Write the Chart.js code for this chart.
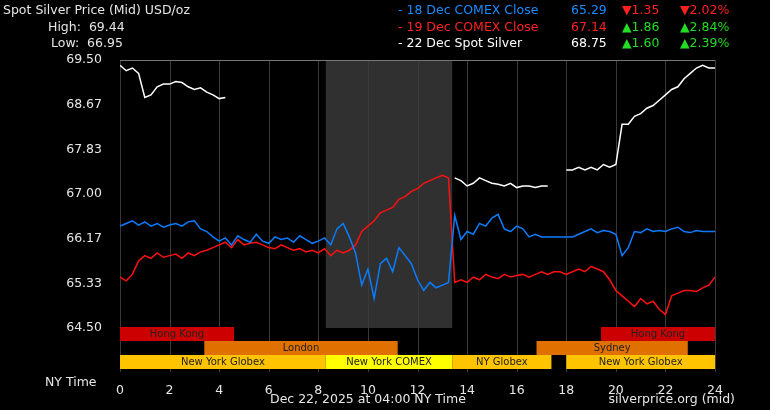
<!DOCTYPE html>
<html>
<head>
<meta charset="utf-8">
<script src="https://cdn.jsdelivr.net/npm/chart.js@4"></script>
<style>
  body { margin: 0; background: #000; }
  #wrap { position: relative; width: 770px; height: 410px; font-family: "DejaVu Sans", sans-serif; font-size: 12.5px; color: #e6e6e6; }
  .t { position: absolute; white-space: nowrap; line-height: 16px; }
  .up { color: #22dd22; } .dn { color: #ff2020; }
</style>
</head>
<body>
<div id="wrap">
  <canvas id="c" width="770" height="410"></canvas>
  <div class="t" style="left:3px;top:2px">Spot Silver Price (Mid) USD/oz</div>
  <div class="t" style="left:48px;top:19px">High:&nbsp; 69.44</div>
  <div class="t" style="left:51px;top:35px">Low:&nbsp; 66.95</div>
  <div class="t" style="left:398px;top:2px;color:#1a8cff">- 18 Dec COMEX Close</div>
  <div class="t" style="left:571px;top:2px;color:#1a8cff">65.29</div>
  <div class="t dn" style="left:622px;top:2px">▼1.35</div>
  <div class="t dn" style="left:680px;top:2px">▼2.02%</div>
  <div class="t" style="left:398px;top:19px;color:#ff2020">- 19 Dec COMEX Close</div>
  <div class="t" style="left:571px;top:19px;color:#ff2020">67.14</div>
  <div class="t up" style="left:622px;top:19px">▲1.86</div>
  <div class="t up" style="left:680px;top:19px">▲2.84%</div>
  <div class="t" style="left:398px;top:35px;color:#fff">- 22 Dec Spot Silver</div>
  <div class="t" style="left:571px;top:35px;color:#fff">68.75</div>
  <div class="t up" style="left:622px;top:35px">▲1.60</div>
  <div class="t up" style="left:680px;top:35px">▲2.39%</div>
  <div class="t" style="left:45px;top:374px">NY Time</div>
  <div class="t" style="left:270px;top:391px">Dec 22, 2025 at 04:00 NY Time</div>
  <div class="t" style="right:35px;top:391px">silverprice.org (mid)</div>
</div>
<script>
// quarter-hour time grid, 0..24 NY time
const hours = Array.from({ length: 97 }, (_, i) => i / 4);
const yTicks = [64.5, 65.33, 66.17, 67.0, 67.83, 68.67, 69.5];

const dec18 = [
  66.4,66.45,66.5,66.42,66.48,66.4,66.45,66.38,66.42,66.45,66.4,66.48,66.5,66.35,66.3,66.2,66.12,
  66.18,66.05,66.22,66.15,66.1,66.25,66.12,66.08,66.2,66.15,66.18,66.1,66.22,66.15,66.08,
  66.12,66.18,66.05,66.35,66.45,66.2,65.9,65.3,65.6,65.05,65.7,65.8,65.55,66.0,65.85,65.7,65.4,65.2,65.35,65.25,65.3,65.35,
  66.6,66.15,66.3,66.25,66.45,66.4,66.55,66.62,66.35,66.3,66.4,66.35,66.2,66.25,66.2,66.2,66.2,66.2,66.2,66.2,
  66.25,66.3,66.35,66.28,66.32,66.3,66.25,65.85,66.0,66.3,66.28,66.35,66.3,66.32,66.3,66.35,66.38,66.3,66.28,66.32,66.3,66.3,66.3
];
const dec19 = [
  65.45,65.38,65.5,65.75,65.85,65.8,65.9,65.82,65.85,65.88,65.8,65.9,65.85,65.92,65.95,66.0,66.05,
  66.1,66.0,66.15,66.05,66.08,66.1,66.05,66.0,65.98,66.05,66.0,65.95,65.98,65.92,65.95,
  65.9,65.98,65.85,65.95,65.9,65.95,66.05,66.3,66.4,66.5,66.65,66.7,66.75,66.9,66.95,67.05,67.1,67.2,67.25,67.3,67.35,67.3,
  65.35,65.4,65.35,65.45,65.4,65.5,65.45,65.42,65.5,65.45,65.48,65.5,65.45,65.5,65.55,65.5,65.55,65.55,65.5,65.55,
  65.6,65.55,65.65,65.6,65.55,65.4,65.2,65.1,65.0,64.9,65.05,64.95,65.0,64.85,64.75,65.1,65.15,65.2,65.2,65.18,65.25,65.3,65.45
];
const dec22 = [
  69.4,69.3,69.35,69.25,68.8,68.85,69.0,69.05,69.05,69.1,69.08,69.0,68.95,68.98,68.9,68.85,68.78,68.8,
  null,null,null,null,null,null,null,null,null,null,null,null,null,null,null,null,null,null,
  null,null,null,null,null,null,null,null,null,null,null,null,null,null,null,null,null,null,
  67.3,67.25,67.15,67.2,67.3,67.25,67.2,67.18,67.15,67.2,67.12,67.15,67.15,67.12,67.15,67.15,
  null,null,
  67.45,67.45,67.5,67.45,67.5,67.45,67.55,67.5,67.55,68.3,68.3,68.45,68.5,68.6,68.65,68.75,68.85,68.95,69.0,69.15,69.25,69.35,69.4,69.35,69.35
];

// market sessions: [label, start, end, row, colour]
const sessionNames = ['Hong Kong', 'London', 'New York Globex', 'New York COMEX', 'NY Globex', 'New York Globex', 'Hong Kong', 'Sydney'];
const sessionStart = [0, 3.4, 0, 8.3, 13.4, 18, 19.4, 16.8];
const sessionEnd = [4.6, 11.2, 8.3, 13.4, 17.4, 24, 24, 22.9];
const sessionRow = [0, 1, 2, 2, 2, 2, 0, 1];
const sessionColor = ['#cc0000', '#e07000', '#ffc400', '#ffff00', '#ffc400', '#ffc400', '#cc0000', '#e07000'];
const comexShade = [8.3, 13.4];

const pts = arr => arr.map((v, i) => ({ x: hours[i], y: v }));

const backdrop = {
  id: 'backdrop',
  beforeDatasetsDraw(chart) {
    const { ctx, chartArea: a, scales: { x } } = chart;
    ctx.save();
    ctx.fillStyle = '#303030';
    ctx.fillRect(x.getPixelForValue(comexShade[0]), a.top, x.getPixelForValue(comexShade[1]) - x.getPixelForValue(comexShade[0]), a.bottom - a.top);
    ctx.strokeStyle = '#3a3a3a';
    ctx.lineWidth = 1;
    for (let h = 0; h <= 24; h += 2) {
      const px = Math.round(x.getPixelForValue(h)) + 0.5;
      ctx.beginPath(); ctx.moveTo(px, a.top); ctx.lineTo(px, a.bottom + 44); ctx.stroke();
    }
    ctx.strokeStyle = '#777';
    ctx.beginPath(); ctx.moveTo(a.left, a.top + 0.5); ctx.lineTo(a.right, a.top + 0.5); ctx.stroke();
    ctx.restore();
  },
  afterDatasetsDraw(chart) {
    const { ctx, chartArea: a, scales: { x } } = chart;
    ctx.save();
    ctx.font = '10px "DejaVu Sans"';
    ctx.textAlign = 'center';
    ctx.textBaseline = 'middle';
    sessionNames.forEach((name, i) => {
      const x0 = x.getPixelForValue(sessionStart[i]);
      const x1 = x.getPixelForValue(sessionEnd[i]);
      const y0 = a.bottom - 1 + sessionRow[i] * 14;
      ctx.fillStyle = sessionColor[i];
      ctx.fillRect(x0, y0, x1 - x0, 14);
      ctx.fillStyle = '#222';
      ctx.fillText(name, (x0 + x1) / 2, y0 + 7);
    });
    ctx.restore();
  }
};

new Chart(document.getElementById('c'), {
  type: 'line',
  data: {
    datasets: [
      { data: pts(dec18), borderColor: '#0a7cff' },
      { data: pts(dec19), borderColor: '#ff1010' },
      { data: pts(dec22), borderColor: '#ffffff' }
    ]
  },
  options: {
    responsive: false,
    animation: false,
    spanGaps: false,
    layout: { padding: { top: 60, right: 35, left: 0, bottom: 0 } },
    elements: { point: { radius: 0 }, line: { borderWidth: 1.5, tension: 0 } },
    plugins: { legend: { display: false }, tooltip: { enabled: false } },
    scales: {
      x: {
        type: 'linear', min: 0, max: 24,
        grid: { display: false },
        border: { display: false },
        afterFit: s => { s.height = 82; },
        afterBuildTicks: s => { s.ticks = [0, 2, 4, 6, 8, 10, 12, 14, 16, 18, 20, 22, 24].map(v => ({ value: v })); },
        ticks: { color: '#e6e6e6', padding: 47, maxRotation: 0, font: { family: 'DejaVu Sans', size: 12.5 } }
      },
      y: {
        min: 64.5, max: 69.5,
        grid: { display: false },
        border: { display: false },
        afterFit: s => { s.width = 120; },
        afterBuildTicks: s => { s.ticks = yTicks.map(v => ({ value: v })); },
        ticks: { color: '#e6e6e6', padding: 10, callback: v => v.toFixed(2), font: { family: 'DejaVu Sans', size: 12.5 } }
      }
    }
  },
  plugins: [backdrop]
});
</script>
</body>
</html>
